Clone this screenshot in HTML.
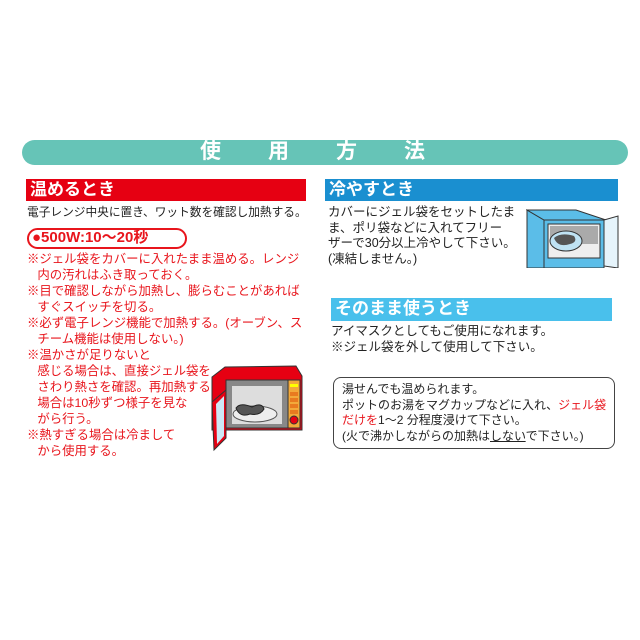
<!DOCTYPE html>
<html><head><meta charset="utf-8"><style>
body{margin:0;width:640px;height:640px;background:#fff;position:relative;overflow:hidden;font-family:"Liberation Sans","Noto Sans CJK JP",sans-serif;}
.a{position:absolute;white-space:nowrap;}
.t{font-size:12.5px;color:#222;line-height:16px;}
.r{color:#e8151c;}
.hd{font-weight:bold;color:#fff;font-size:17px;line-height:22px;padding-left:4px;box-sizing:border-box;}
</style></head><body>
<div class="a" style="left:22px;top:140px;width:606px;height:25px;background:#66c4b7;border-radius:13px;"></div>
<div class="a" style="left:200px;top:139px;font-size:21px;font-weight:bold;color:#fff;letter-spacing:47px;line-height:26px;">使用方法</div>

<div class="a hd" style="left:26px;top:179px;width:280px;height:22px;background:#e60012;">温めるとき</div>
<div class="a t" style="left:27px;top:205px;font-size:11.7px;">電子レンジ中央に置き、ワット数を確認し加熱する。</div>
<div class="a" style="left:27px;top:228px;width:156px;height:17px;border:2px solid #e8151c;border-radius:11px;"></div>
<div class="a r" style="left:32px;top:227px;font-size:15px;font-weight:bold;line-height:22px;">●500W:10〜20秒</div>
<div class="a t r" style="left:27px;top:251px;font-size:12.4px;">※ジェル袋をカバーに入れたまま温める。レンジ<br>&nbsp;&nbsp;&nbsp;内の汚れはふき取っておく。<br>※目で確認しながら加熱し、膨らむことがあれば<br>&nbsp;&nbsp;&nbsp;すぐスイッチを切る。<br>※必ず電子レンジ機能で加熱する。(オーブン、ス<br>&nbsp;&nbsp;&nbsp;チーム機能は使用しない。)<br>※温かさが足りないと<br>&nbsp;&nbsp;&nbsp;感じる場合は、直接ジェル袋を<br>&nbsp;&nbsp;&nbsp;さわり熱さを確認。再加熱する<br>&nbsp;&nbsp;&nbsp;場合は10秒ずつ様子を見な<br>&nbsp;&nbsp;&nbsp;がら行う。<br>※熱すぎる場合は冷まして<br>&nbsp;&nbsp;&nbsp;から使用する。</div>

<svg class="a" style="left:200px;top:350px" width="110" height="110" viewBox="0 0 110 110">
<path d="M12 27 L25 17 L96 16 L102 26 L102 80 L12 80 Z" fill="#e60012" stroke="#333" stroke-width="1"/>
<rect x="26" y="30" width="62" height="48" fill="#888" stroke="#333"/>
<rect x="32" y="36" width="50" height="38" fill="#ddd"/>
<rect x="88" y="30" width="12" height="48" fill="#f2a93b" stroke="#333"/>
<rect x="90" y="34" width="8" height="3" fill="#ff0"/>
<rect x="90" y="42" width="8" height="4" fill="#e87a20"/><rect x="90" y="48" width="8" height="4" fill="#e87a20"/><rect x="90" y="54" width="8" height="4" fill="#e87a20"/><rect x="90" y="60" width="8" height="4" fill="#e87a20"/>
<circle cx="94" cy="70" r="4" fill="#e60012" stroke="#333"/>
<ellipse cx="55" cy="64" rx="22" ry="8" fill="#eee" stroke="#555"/>
<path d="M36 58 Q40 52 52 57 Q62 52 64 59 Q60 66 50 64 Q40 68 36 58Z" fill="#555" stroke="#222"/>
<path d="M12 52 L26 40 L26 88 L14 100 Z" fill="#e60012" stroke="#333"/>
<path d="M16 54 L24 46 L24 86 L17 94 Z" fill="#cde8f5"/>
</svg>

<div class="a hd" style="left:325px;top:179px;width:293px;height:22px;background:#1a8fd0;">冷やすとき</div>
<div class="a t" style="left:328px;top:205px;line-height:15.5px;">カバーにジェル袋をセットしたま<br>ま、ポリ袋などに入れてフリー<br>ザーで30分以上冷やして下さい。<br>(凍結しません。)</div>
<svg class="a" style="left:526px;top:208px" width="94" height="60" viewBox="0 0 94 60">
<path d="M1 2 L18 12 L18 60 L1 60 Z" fill="#5bbde8" stroke="#333"/>
<path d="M1 2 L50 2 L80 12 L18 12 Z" fill="#5bbde8" stroke="#333"/>
<rect x="18" y="12" width="60" height="48" fill="#5bbde8" stroke="#333"/>
<rect x="22" y="16" width="52" height="34" fill="#eee" stroke="#333"/>
<rect x="24" y="18" width="48" height="18" fill="#aaa"/>
<ellipse cx="40" cy="33" rx="16" ry="10" fill="#bfe2f3" stroke="#333"/>
<path d="M28 30 Q35 24 48 28 Q52 34 44 36 Q32 40 28 30Z" fill="#555"/>
<path d="M78 12 L92 8 L92 60 L78 58 Z" fill="#e6f4fb" stroke="#333"/>
</svg>

<div class="a hd" style="left:331px;top:298px;width:281px;height:23px;background:#49c0ec;">そのまま使うとき</div>
<div class="a t" style="left:331px;top:324px;line-height:15.5px;">アイマスクとしてもご使用になれます。<br>※ジェル袋を外して使用して下さい。</div>

<div class="a" style="left:333px;top:377px;width:280px;height:70px;border:1.5px solid #444;border-radius:8px;"></div>
<div class="a t" style="left:342px;top:382px;line-height:15.5px;font-size:12px;">湯せんでも温められます。<br>ポットのお湯をマグカップなどに入れ、<span class="r">ジェル袋</span><br><span class="r">だけを</span>1〜2 分程度浸けて下さい。<br>(火で沸かしながらの加熱は<u>しない</u>で下さい。)</div>
</body></html>
